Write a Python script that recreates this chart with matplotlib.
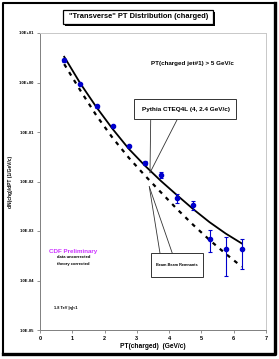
import matplotlib
matplotlib.use("Agg")
import matplotlib.pyplot as plt
from matplotlib.patches import Rectangle
from matplotlib.lines import Line2D

plt.rcParams['font.family'] = ['Liberation Sans', 'DejaVu Sans']
plt.rcParams['font.weight'] = 'bold'

# ---- data ----
pt = [0.75, 1.25, 1.75, 2.25, 2.75, 3.25, 3.75, 4.25, 4.75, 5.25, 5.75, 6.25]
data_y = [2.85, 0.95, 0.33, 0.132, 0.052, 0.0233, 0.0135, 0.00465, 0.0033, 0.0007, 0.00043, 0.00043]
data_lo = [2.65, 0.90, 0.31, 0.125, 0.049, 0.0212, 0.0120, 0.0036, 0.0026, 0.00038, 0.000126, 0.00017]
data_hi = [3.05, 1.00, 0.35, 0.140, 0.055, 0.0256, 0.0152, 0.0055, 0.0041, 0.00103, 0.00074, 0.00068]
pythia = [3.31, 0.955, 0.316, 0.115, 0.0457, 0.0209, 0.0102, 0.00525, 0.00275, 0.00151, 0.00089, 0.00056]
bbr = [2.35, 0.69, 0.214, 0.0759, 0.0302, 0.0132, 0.0060, 0.00275, 0.00132, 0.00066, 0.000347, 0.00019]
xticks = [0, 1, 2, 3, 4, 5, 6, 7]
yticks = [1e-5, 1e-4, 1e-3, 1e-2, 1e-1, 1e0, 1e1]
ytick_labels = ["1.0E-05", "1.0E-04", "1.0E-03", "1.0E-02", "1.0E-01", "1.0E+00", "1.0E+01"]

W, H = 279, 359
fig = plt.figure(figsize=(W / 100, H / 100), dpi=100)
ax = fig.add_axes([40 / W, 1 - 330 / H, 226 / W, 297 / H])

def px(x, y):
    return x / W, 1 - y / H

blue = '#0000CC'
ax.plot(pt, pythia, color='black', lw=1.3, zorder=3)
ax.plot(pt, bbr, color='black', lw=1.6, dashes=(1.8, 2.4), zorder=3)
yerr = [[y - l for y, l in zip(data_y, data_lo)], [h - y for y, h in zip(data_y, data_hi)]]
ax.errorbar(pt, data_y, yerr=yerr, fmt='o', color=blue, ms=3.0, elinewidth=0.8,
            capsize=1.6, capthick=0.8, zorder=4)

ax.set_yscale('log')
ax.set_xlim(0, 7)
ax.set_ylim(1e-5, 1e1)
ax.set_xticks(xticks)
ax.set_xticklabels([str(t) for t in xticks], fontsize=4, fontweight='bold')
ax.set_yticks(yticks)
ax.set_yticklabels(ytick_labels, fontsize=3, fontweight='bold')
ax.minorticks_off()
ax.tick_params(axis='both', direction='out', length=2, width=0.6, color='#808080', pad=2)
for s in ['left', 'bottom']:
    ax.spines[s].set_color('#808080')
    ax.spines[s].set_linewidth(0.7)
for s in ['top', 'right']:
    ax.spines[s].set_color('#C8C8C8')
    ax.spines[s].set_linewidth(0.7)

ax.set_xlabel('PT(charged)  (GeV/c)', fontsize=4.8, fontweight='bold', labelpad=1.5)
ax.set_ylabel('dN(chg)/dPT (1/GeV/c)', fontsize=3.5, fontweight='bold', labelpad=4)

# ---- text ----
fig.text(*px(192.5, 63), 'PT(charged jet#1) > 5 GeV/c', fontsize=4.5, ha='center', va='center', fontweight='bold')
fig.text(*px(73, 251), 'CDF Preliminary', fontsize=4.5, ha='center', va='center', fontweight='bold', color='#CC33FF')
fig.text(*px(73.5, 257.5), 'data uncorrected', fontsize=3.0, ha='center', va='center', fontweight='bold')
fig.text(*px(73.5, 264), 'theory corrected', fontsize=3.0, ha='center', va='center', fontweight='bold')
fig.text(*px(66, 307.5), '1.8 TeV |\u03b7|<1', fontsize=2.8, ha='center', va='center', fontweight='bold')

# Pythia callout
fig.patches.append(Rectangle(px(134, 119.3), 102 / W, 20 / H, transform=fig.transFigure,
                             facecolor='white', edgecolor='#333333', lw=0.7, zorder=5))
fig.text(*px(185.5, 109), 'Pythia CTEQ4L (4, 2.4 GeV/c)', fontsize=4.6, ha='center', va='center',
         fontweight='bold', zorder=6)
for x0 in (150.7, 177.3):
    fig.lines.append(Line2D([x0 / W, 150 / W], [1 - 119.3 / H, 1 - 172.7 / H],
                            transform=fig.transFigure, color='#333333', lw=0.6, zorder=5))

# Beam-Beam callout
fig.patches.append(Rectangle(px(151, 277.3), 51.7 / W, 24 / H, transform=fig.transFigure,
                             facecolor='white', edgecolor='#333333', lw=0.7, zorder=5))
fig.text(*px(177, 265.3), 'Beam-Beam Remnants', fontsize=2.8, ha='center', va='center',
         fontweight='bold', zorder=6)
for x0 in (160, 172.3):
    fig.lines.append(Line2D([x0 / W, 149.3 / W], [1 - 253.3 / H, 1 - 186.7 / H],
                            transform=fig.transFigure, color='#333333', lw=0.6, zorder=5))

# Title box with shadow
fig.patches.append(Rectangle(px(65, 25.5), 150 / W, 14 / H, transform=fig.transFigure,
                             facecolor='black', edgecolor='black', lw=0, zorder=5))
fig.patches.append(Rectangle(px(63.3, 24), 150 / W, 14 / H, transform=fig.transFigure,
                             facecolor='white', edgecolor='black', lw=0.9, zorder=6))
fig.text(*px(138.3, 17), '"Transverse" PT Distribution (charged)', fontsize=5.4, ha='center',
         va='center', fontweight='bold', zorder=7)

# outer frame with shadow
fig.lines.append(Line2D([3 / W, 3 / W, 274 / W], [1 - 353 / H, 1 - 3 / H, 1 - 3 / H],
                        transform=fig.transFigure, color='black', lw=1.5))
fig.lines.append(Line2D([3 / W, 274.5 / W, 274.5 / W], [1 - 353.5 / H, 1 - 353.5 / H, 1 - 3 / H],
                        transform=fig.transFigure, color='black', lw=2.4))

fig.savefig('out.png', dpi=100, facecolor='white')
